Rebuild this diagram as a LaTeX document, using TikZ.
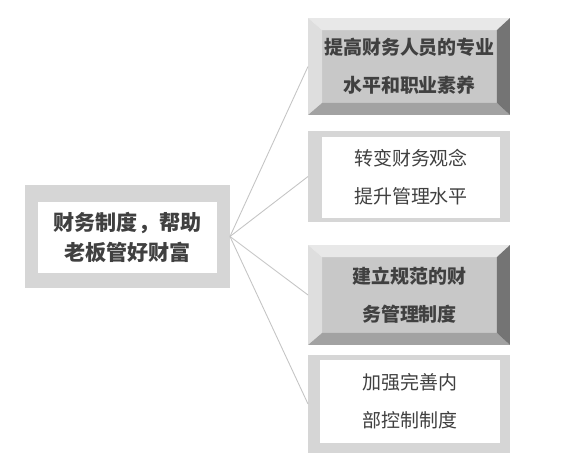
\documentclass[tikz,border=0pt]{standalone}
\usepackage{fontspec}
\newfontfamily\cjk{Noto Sans CJK SC}
\usepackage{tikz}

\definecolor{bvmid}{HTML}{C8C8C8}
\definecolor{bvtop}{HTML}{E8E8E8}
\definecolor{bvleft}{HTML}{DEDEDE}
\definecolor{bvbot}{HTML}{A2A2A2}
\definecolor{bvright}{HTML}{747474}
\definecolor{frm}{HTML}{D6D6D6}
\definecolor{lnk}{HTML}{C4C4C4}

% bevel round inner node #1 inside outer node #1o
\newcommand{\bevel}[1]{%
  \fill[bvtop]   (#1o.north west) -- (#1o.north east) -- (#1.north east) -- (#1.north west) -- cycle;
  \fill[bvleft]  (#1o.north west) -- (#1.north west) -- (#1.south west) -- (#1o.south west) -- cycle;
  \fill[bvbot]   (#1o.south west) -- (#1o.south east) -- (#1.south east) -- (#1.south west) -- cycle;
  \fill[bvright] (#1o.north east) -- (#1o.south east) -- (#1.south east) -- (#1.north east) -- cycle;
}

\begin{document}
\begin{tikzpicture}[x=0.02cm,y=-0.02cm,font=\cjk]
  \tikzstyle{outer}=[inner sep=0pt,outer sep=0pt,minimum width=4.04cm]
  \tikzstyle{frame}=[outer,fill=frm]
  \tikzstyle{inbev}=[inner sep=0pt,outer sep=0pt,fill=bvmid,minimum width=3.5cm,
                     align=center,font=\cjk\bfseries\fontsize{10.8}{21.5}\selectfont,text=black!75]
  \tikzstyle{inwhite}=[inner sep=0pt,outer sep=0pt,fill=white,minimum width=3.58cm,
                     align=center,font=\cjk\fontsize{10.8}{21.5}\selectfont,text=black!75]
  \useasboundingbox (0,0) rectangle (562,472);

  % left box
  \node[frame,minimum width=4.1cm,minimum height=2.06cm] (lb) at (127.5,236.5) {};
  \node[inwhite,minimum width=3.58cm,minimum height=1.42cm,
        font=\cjk\bfseries\fontsize{12}{17}\selectfont] (lbi) at (127.5,237.5)
        {财务制度，帮助\\老板管好财富};

  % right boxes
  \node[outer,minimum height=1.94cm] (b1o) at (409,66.5) {};
  \node[inbev,minimum height=1.46cm] (b1) at (409.5,66.5) {提高财务人员的专业\\水平和职业素养};
  \bevel{b1}

  \node[frame,minimum height=1.82cm] (b2o) at (409,176.5) {};
  \node[inwhite,minimum height=1.62cm] (b2) at (411,177.5) {转变财务观念\\提升管理水平};

  \node[outer,minimum height=2cm] (b3o) at (409,295) {};
  \node[inbev,minimum height=1.52cm] (b3) at (409.5,295) {建立规范的财\\务管理制度};
  \bevel{b3}

  \node[frame,minimum height=1.96cm] (b4o) at (409,404) {};
  \node[inwhite,minimum width=3.6cm,minimum height=1.66cm] (b4) at (410,401.5) {加强完善内\\部控制制度};

  % links
  \foreach \t in {b1o,b2o,b3o,b4o}
    \draw[lnk,line width=0.5pt] (lb.east) -- (\t.west);
\end{tikzpicture}
\end{document}
